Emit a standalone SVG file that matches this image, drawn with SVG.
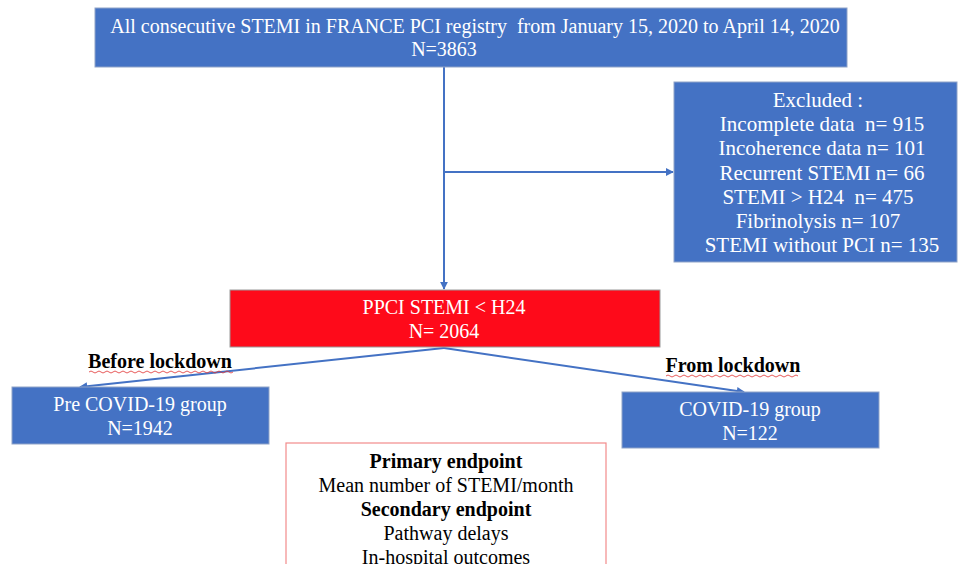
<svg xmlns="http://www.w3.org/2000/svg" width="959" height="564" viewBox="0 0 959 564">
<style>
text{font-family:"Liberation Serif","Times New Roman",serif;font-size:20px;text-anchor:middle;white-space:pre}
.w{fill:#fff}
.k{fill:#000}
.b{font-weight:bold}
.ex{font-size:21px}
.blue{fill:#4472C4;stroke:#8FA3C8;stroke-width:1}
.red{fill:#FE0A1A;stroke:#9A9A9A;stroke-width:1}
.ep{fill:#fff;stroke:#F28B8B;stroke-width:1.2}
.conn{stroke:#4472C4;stroke-width:2;fill:none}
.sq{stroke:#E03030;stroke-width:0.8;fill:none}
</style>
<defs>
<marker id="ah" viewBox="0 0 10 10" refX="9" refY="5" markerWidth="4" markerHeight="4" orient="auto">
<path d="M0,0 L10,5 L0,10 z" fill="#4472C4"/>
</marker>
</defs>
<g id="connectors">
<line class="conn" x1="444" y1="67" x2="444" y2="289" marker-end="url(#ah)"/>
<line class="conn" x1="444" y1="172" x2="673" y2="172" marker-end="url(#ah)"/>
<line class="conn" x1="444" y1="348" x2="80" y2="387" marker-end="url(#ah)"/>
<line class="conn" x1="444" y1="348" x2="744" y2="392" marker-end="url(#ah)"/>
</g>
<g id="registry">
<rect class="blue" x="95" y="8" width="752" height="59"/>
<text class="w" x="475" y="33" xml:space="preserve">All consecutive STEMI in FRANCE PCI registry  from January 15, 2020 to April 14, 2020</text>
<text class="w" x="444" y="56">N=3863</text>
</g>
<g id="excluded">
<rect class="blue" x="674" y="82" width="283" height="180"/>
<text class="w ex" x="818" y="107">Excluded :</text>
<text class="w ex" x="822" y="131" xml:space="preserve">Incomplete data  n= 915</text>
<text class="w ex" x="822" y="155">Incoherence data n= 101</text>
<text class="w ex" x="822" y="180">Recurrent STEMI n= 66</text>
<text class="w ex" x="818" y="204" xml:space="preserve">STEMI &gt; H24  n= 475</text>
<text class="w ex" x="818" y="228">Fibrinolysis n= 107</text>
<text class="w ex" x="822" y="252">STEMI without PCI n= 135</text>
</g>
<g id="ppci">
<rect class="red" x="230" y="290" width="430" height="57"/>
<text class="w" x="444" y="314">PPCI STEMI &lt; H24</text>
<text class="w" x="444" y="338">N= 2064</text>
</g>
<g id="label-before">
<text class="k b" x="160" y="368" textLength="144" lengthAdjust="spacingAndGlyphs">Before lockdown</text>
<path class="sq" d="M89,372 q2,-2 4,0 t4,0 t4,0 t4,0 t4,0 t4,0 t4,0 t4,0 t4,0 t4,0 t4,0 t4,0 t4,0 t4,0 t4,0 t4,0 t4,0 t4,0 t4,0 t4,0 t4,0 t4,0 t4,0 t4,0 t4,0 t4,0 t4,0 t4,0 t4,0 t4,0 t4,0 t4,0 t4,0 t4,0 t4,0 t4,0"/>
</g>
<g id="label-from">
<text class="k b" x="733" y="372" textLength="135" lengthAdjust="spacingAndGlyphs">From lockdown</text>
<path class="sq" d="M666,376 q2,-2 4,0 t4,0 t4,0 t4,0 t4,0 t4,0 t4,0 t4,0 t4,0 t4,0 t4,0 t4,0 t4,0 t4,0 t4,0 t4,0 t4,0 t4,0 t4,0 t4,0 t4,0 t4,0 t4,0 t4,0 t4,0 t4,0 t4,0 t4,0 t4,0 t4,0 t4,0 t4,0 t4,0"/>
</g>
<g id="pre-covid">
<rect class="blue" x="12" y="387" width="257" height="57"/>
<text class="w" x="140" y="411">Pre COVID-19 group</text>
<text class="w" x="140" y="435">N=1942</text>
</g>
<g id="covid">
<rect class="blue" x="622" y="392" width="257" height="56"/>
<text class="w" x="750" y="416">COVID-19 group</text>
<text class="w" x="750" y="440">N=122</text>
</g>
<g id="endpoints">
<rect class="ep" x="286" y="443" width="320" height="130"/>
<text class="k b" x="446" y="468">Primary endpoint</text>
<text class="k" x="446" y="492">Mean number of STEMI/month</text>
<text class="k b" x="446" y="516">Secondary endpoint</text>
<text class="k" x="446" y="540">Pathway delays</text>
<text class="k" x="446" y="564">In-hospital outcomes</text>
</g>
</svg>
